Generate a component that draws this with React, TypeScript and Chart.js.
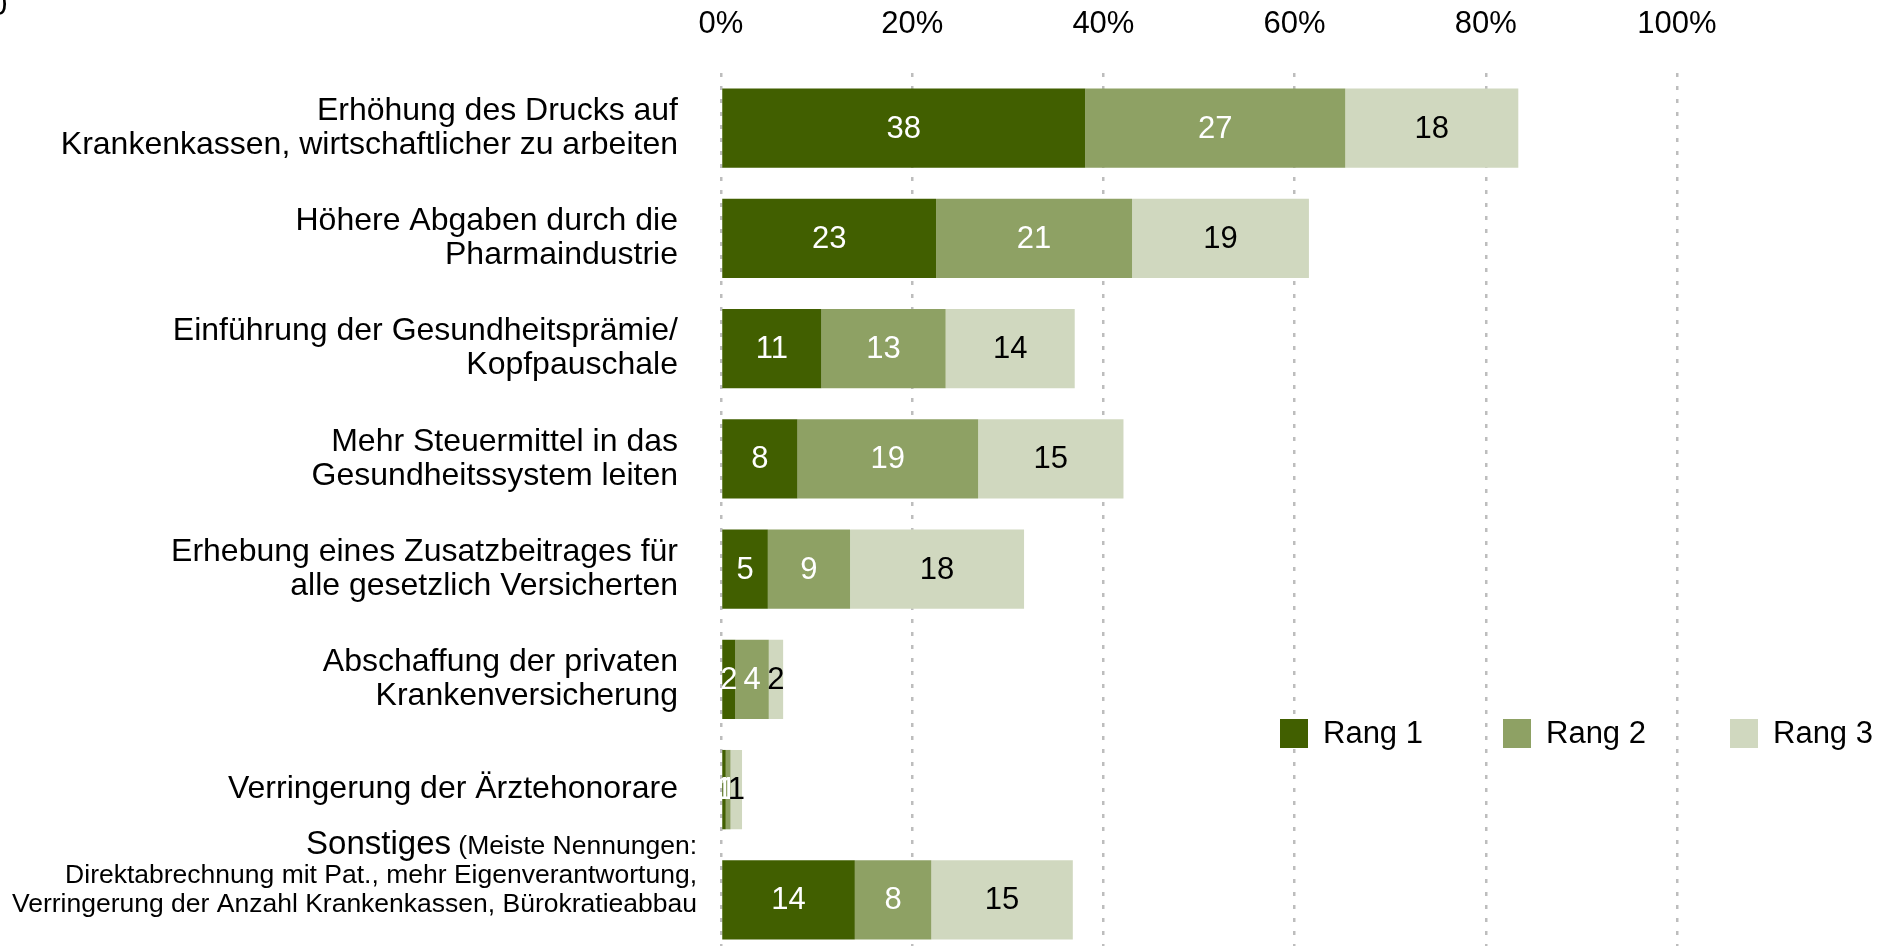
import React, { useEffect, useRef } from 'react';
import { Chart, registerables } from 'chart.js';

Chart.register(...registerables);

// ---------- data ----------
const categories = [
  'Erhöhung des Drucks auf\nKrankenkassen, wirtschaftlicher zu arbeiten',
  'Höhere Abgaben durch die\nPharmaindustrie',
  'Einführung der Gesundheitsprämie/\nKopfpauschale',
  'Mehr Steuermittel in das\nGesundheitssystem leiten',
  'Erhebung eines Zusatzbeitrages für\nalle gesetzlich Versicherten',
  'Abschaffung der privaten\nKrankenversicherung',
  'Verringerung der Ärztehonorare',
  'Sonstiges',
];
const otherNote = [
  '(Meiste Nennungen:',
  'Direktabrechnung mit Pat., mehr Eigenverantwortung,',
  'Verringerung der Anzahl Krankenkassen, Bürokratieabbau',
];
const seriesNames = ['Rang 1', 'Rang 2', 'Rang 3'];
const rang1 = [38.1, 22.5, 10.5, 8.0, 4.9, 1.5, 0.5, 14.0];
const rang2 = [27.2, 20.5, 13.0, 18.9, 8.6, 3.5, 0.5, 8.0];
const rang3 = [18.1, 18.5, 13.5, 15.2, 18.2, 1.5, 1.2, 14.8];
const xTickValues = [0, 20, 40, 60, 80, 100];

// ---------- style ----------
const FONT = '"Liberation Sans", Arial, Helvetica, sans-serif';
const COLORS = ['#415F00', '#8EA164', '#D0D8BF'];
const LABEL_COLORS = ['#ffffff', '#ffffff', '#000000'];

const labelsPlugin = {
  id: 'customLabels',
  afterDatasetsDraw(chart: any) {
    const ctx = chart.ctx;
    ctx.save();
    ctx.font = `31px ${FONT}`;
    ctx.textAlign = 'center';
    ctx.textBaseline = 'middle';
    chart.data.datasets.forEach((ds: any, di: number) => {
      const meta = chart.getDatasetMeta(di);
      meta.data.forEach((el: any, i: number) => {
        const v = ds.data[i];
        const cx = (el.x + el.base) / 2;
        ctx.fillStyle = LABEL_COLORS[di];
        ctx.fillText(String(Math.round(v)), cx, el.y + 1);
      });
    });
    ctx.restore();
  },
  afterDraw(chart: any) {
    const ctx = chart.ctx;
    const y = chart.scales.y;
    ctx.save();
    ctx.fillStyle = '#000';
    // category labels
    const last = categories.length - 1;
    categories.forEach((c, i) => {
      const yc = y.getPixelForValue(i);
      if (i === last) {
        ctx.textBaseline = 'alphabetic';
        ctx.textAlign = 'right';
        const rx = 697;
        ctx.font = `26.5px ${FONT}`;
        const w = ctx.measureText(' ' + otherNote[0]).width;
        ctx.fillText(' ' + otherNote[0], rx, yc - 46);
        ctx.font = `33px ${FONT}`;
        ctx.fillText(c, rx - w, yc - 46);
        ctx.font = `26.5px ${FONT}`;
        ctx.fillText(otherNote[1], rx, yc - 17);
        ctx.fillText(otherNote[2], rx, yc + 12);
        return;
      }
      ctx.font = `32px ${FONT}`;
      ctx.textAlign = 'right';
      ctx.textBaseline = 'middle';
      const lines = c.split('\n');
      const lh = 34;
      lines.forEach((ln, k) => {
        ctx.fillText(ln, 678, yc + (k - (lines.length - 1) / 2) * lh);
      });
    });
    // legend
    const sqX = [1280, 1503, 1730];
    ctx.font = `31px ${FONT}`;
    ctx.textAlign = 'left';
    ctx.textBaseline = 'middle';
    chart.data.datasets.forEach((ds: any, di: number) => {
      ctx.fillStyle = ds.backgroundColor;
      ctx.fillRect(sqX[di], 719, 28, 29);
      ctx.fillStyle = '#000';
      ctx.fillText(ds.label, sqX[di] + 43, 734);
    });
    // clipped stray glyph in corner
    ctx.textBaseline = 'alphabetic';
    ctx.fillText('0', -10, 15);
    ctx.restore();
  },
};

export default function App() {
  const ref = useRef<HTMLCanvasElement>(null);
  useEffect(() => {
    if (!ref.current) return;
    const chart = new Chart(ref.current, {
      type: 'bar',
      data: {
        labels: categories,
        datasets: [rang1, rang2, rang3].map((d, i) => ({
          label: seriesNames[i],
          data: d,
          backgroundColor: COLORS[i],
          borderWidth: 0,
          categoryPercentage: 1,
          barPercentage: 0.72,
        })),
      },
      options: {
        indexAxis: 'y',
        animation: false,
        responsive: false,
        devicePixelRatio: 1,
        layout: { padding: { left: 721, right: 220, top: 0, bottom: 5 } },
        plugins: { legend: { display: false }, tooltip: { enabled: false } },
        scales: {
          x: {
            position: 'top',
            stacked: true,
            min: 0,
            max: 100,
            afterBuildTicks: (s: any) => {
              s.ticks = xTickValues.map((v) => ({ value: v }));
            },
            afterFit: (s: any) => {
              s.height = 73;
            },
            ticks: {
              callback: (v: any) => v + '%',
              font: { family: FONT, size: 31 },
              color: '#000',
              padding: 30,
              maxRotation: 0,
            },
            grid: { color: '#BDBDBD', lineWidth: 2.5, drawTicks: false },
            border: { display: false, dash: [4, 9] },
          },
          y: {
            display: false,
            stacked: true,
          },
        },
      },
      plugins: [labelsPlugin],
    } as any);
    return () => chart.destroy();
  }, []);
  return (
    <div style={{ position: 'fixed', left: 0, top: 0, width: 1897, height: 960, background: '#fff' }}>
      <canvas ref={ref} width={1897} height={960} style={{ width: 1897, height: 960, display: 'block' }} />
    </div>
  );
}
